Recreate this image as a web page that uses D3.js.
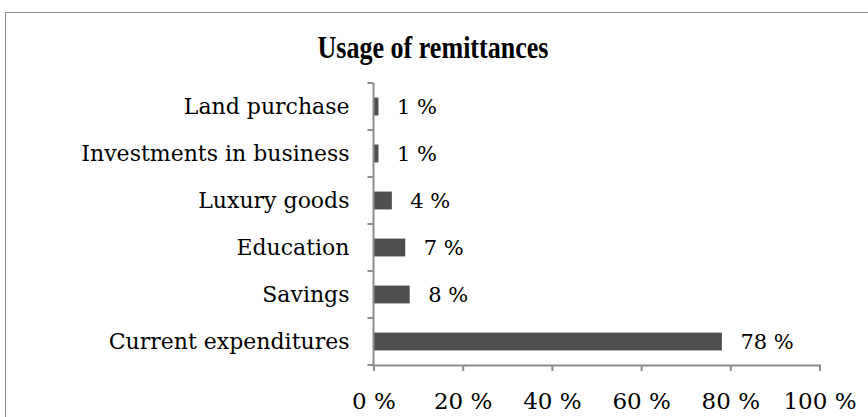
<!DOCTYPE html>
<html>
<head>
<meta charset="utf-8">
<script src="https://cdn.jsdelivr.net/npm/d3@7"></script>
<style>
  html, body { margin: 0; padding: 0; background: #fff; }
  svg { display: block; }
  .cat { font-family: "DejaVu Serif", serif; font-size: 22px; fill: #000; }
  .val { font-family: "DejaVu Serif", serif; font-size: 21px; fill: #000; }
  .tick text { font-family: "DejaVu Serif", serif; font-size: 23px; fill: #000; }
  .title { font-family: "Liberation Serif", serif; font-weight: bold; font-size: 31px; fill: #000; }
</style>
</head>
<body>
<svg id="chart" width="868" height="417"></svg>
<script>
// Shares of remittance spending, listed top to bottom
const categories = ["Land purchase", "Investments in business", "Luxury goods", "Education", "Savings", "Current expenditures"];
const shares = [1, 1, 4, 7, 8, 78];
const xTicks = [0, 20, 40, 60, 80, 100];
const chartTitle = "Usage of remittances";

const svg = d3.select("#chart");
const W = 868, H = 417;
const margin = { left: 373.5, right: 48.5, top: 83, bottom: 52 };

// chart frame
svg.append("rect")
  .attr("x", 5.5).attr("y", 12.5)
  .attr("width", W + 10).attr("height", H + 10)
  .attr("fill", "none").attr("stroke", "#8c8c8c").attr("stroke-width", 1);

const x = d3.scaleLinear().domain([0, 100]).range([margin.left, W - margin.right]);
const y = d3.scaleBand().domain(categories).range([margin.top, H - margin.bottom]).paddingInner(0.62).paddingOuter(0.31);

// narrow bold heading
svg.append("text").attr("class", "title")
  .attr("x", 433).attr("y", 58).attr("text-anchor", "middle")
  .attr("textLength", 231).attr("lengthAdjust", "spacingAndGlyphs")
  .text(chartTitle);

// bars
svg.selectAll("rect.bar").data(categories).join("rect")
  .attr("class", "bar")
  .attr("x", x(0) + 0.5)
  .attr("y", d => y(d))
  .attr("width", (d, i) => x(shares[i]) - x(0))
  .attr("height", y.bandwidth())
  .attr("fill", "#4f4f4f");

// value labels
svg.selectAll("text.val").data(categories).join("text")
  .attr("class", "val")
  .attr("x", (d, i) => x(shares[i]) + 19)
  .attr("y", d => y(d) + y.bandwidth() / 2)
  .attr("dy", "0.35em")
  .text((d, i) => shares[i] + " %");

// category labels
svg.selectAll("text.cat").data(categories).join("text")
  .attr("class", "cat")
  .attr("x", x(0) - 24)
  .attr("y", d => y(d) + y.bandwidth() / 2)
  .attr("dy", "0.35em")
  .attr("text-anchor", "end")
  .text(d => d);

// vertical axis with ticks at band boundaries
const y0 = margin.top, y1 = H - margin.bottom;
const step = (y1 - y0) / categories.length;
const axisColor = "#8c8c8c";
const gy = svg.append("g");
gy.append("line").attr("x1", x(0)).attr("x2", x(0)).attr("y1", y0).attr("y2", y1)
  .attr("stroke", axisColor).attr("stroke-width", 2);
gy.selectAll("line.t").data(d3.range(categories.length + 1)).join("line")
  .attr("class", "t")
  .attr("x1", x(0) - 6).attr("x2", x(0))
  .attr("y1", i => y0 + i * step).attr("y2", i => y0 + i * step)
  .attr("stroke", axisColor).attr("stroke-width", 2);

// horizontal axis
const gx = svg.append("g").attr("transform", `translate(0,${y1})`)
  .call(d3.axisBottom(x).tickValues(xTicks).tickSize(6).tickPadding(22).tickFormat(d => d + " %"));
gx.select(".domain").attr("stroke", axisColor).attr("stroke-width", 2);
gx.selectAll(".tick line").attr("stroke", axisColor).attr("stroke-width", 2);
gx.selectAll(".tick text").attr("fill", "#000");
gx.attr("font-family", null).attr("font-size", null);
</script>
</body>
</html>
